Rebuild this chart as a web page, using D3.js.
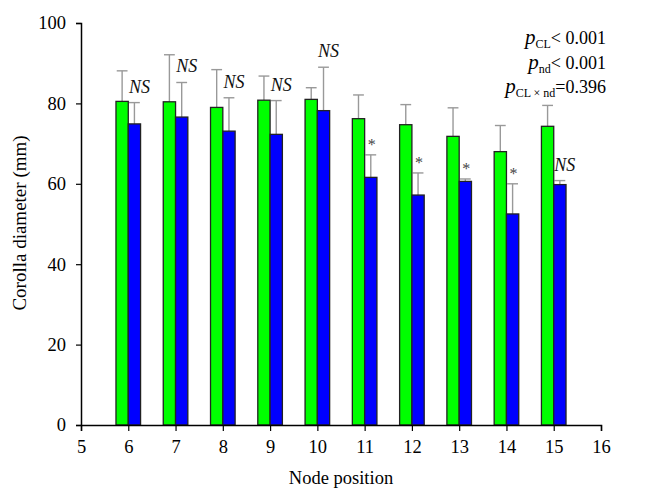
<!DOCTYPE html>
<html>
<head>
<meta charset="utf-8">
<script src="https://cdn.jsdelivr.net/npm/d3@7"></script>
<style>
  body { margin: 0; background: #fff; }
  text { font-family: "Liberation Serif", "Times New Roman", serif; }
</style>
</head>
<body>
<div id="chart"></div>
<script>
// values
var nodes = [6, 7, 8, 9, 10, 11, 12, 13, 14, 15];
var greenMean = [80.5, 80.4, 79.0, 80.8, 81.0, 76.2, 74.7, 71.8, 68.0, 74.3];
var greenTop = [88.1, 92.1, 88.4, 86.8, 83.9, 82.1, 79.7, 78.9, 74.5, 79.5];
var blueMean = [74.9, 76.6, 73.1, 72.3, 78.2, 61.6, 57.2, 60.6, 52.5, 59.8];
var blueTop = [80.2, 85.2, 81.4, 80.7, 89.0, 67.2, 62.7, 61.2, 60.0, 60.8];
var sigLabels = ["NS", "NS", "NS", "NS", "NS", "*", "*", "*", "*", "NS"];
var xTicks = [5, 6, 7, 8, 9, 10, 11, 12, 13, 14, 15, 16];
var yTicks = [0, 20, 40, 60, 80, 100];

var W = 647, H = 495;
var margin = { top: 23, right: 46, bottom: 70, left: 81 },
    width = W - margin.left - margin.right,
    height = H - margin.top - margin.bottom;

var svg = d3.select("#chart").append("svg")
    .attr("width", W)
    .attr("height", H);

var g = svg.append("g")
    .attr("transform", "translate(" + margin.left + "," + margin.top + ")");

var x = d3.scaleLinear().domain([5, 16]).range([0, width]);
var y = d3.scaleLinear().domain([0, 100]).range([height, 0]);
var barW = x(5.26) - x(5);

var rows = nodes.map(function (n, i) {
    return { n: n, g: greenMean[i], gt: greenTop[i], b: blueMean[i], bt: blueTop[i], s: sigLabels[i] };
});

var grp = g.selectAll(".grp").data(rows).enter().append("g");

// error bars (upper only)
function errBar(sel, cx, top, base) {
    sel.append("line")
        .attr("x1", cx).attr("x2", cx)
        .attr("y1", y(base)).attr("y2", y(top))
        .style("stroke", "#999").style("stroke-width", 1.4);
    sel.append("line")
        .attr("x1", cx - barW * 0.44).attr("x2", cx + barW * 0.44)
        .attr("y1", y(top)).attr("y2", y(top))
        .style("stroke", "#999").style("stroke-width", 1.4);
}

grp.each(function (d) {
    var s = d3.select(this);
    errBar(s, x(d.n) - barW / 2, d.gt, d.g);
    errBar(s, x(d.n) + barW / 2, d.bt, d.b);
});

grp.append("rect")
    .attr("x", function (d) { return x(d.n) - barW; })
    .attr("y", function (d) { return y(d.g); })
    .attr("width", barW)
    .attr("height", function (d) { return height - y(d.g); })
    .style("fill", "#00ff00")
    .style("stroke", "#222")
    .style("stroke-width", 1.3);

grp.append("rect")
    .attr("x", function (d) { return x(d.n); })
    .attr("y", function (d) { return y(d.b); })
    .attr("width", barW)
    .attr("height", function (d) { return height - y(d.b); })
    .style("fill", "#0000ff")
    .style("stroke", "#222")
    .style("stroke-width", 1.3);

// significance labels
grp.append("text")
    .attr("x", function (d) { return x(d.n) + barW / 2 + (d.s == "*" ? 1 : 5); })
    .attr("y", function (d) { return y(d.bt) - (d.s == "*" ? 5 : 10); })
    .attr("text-anchor", "middle")
    .style("font-size", function (d) { return d.s == "*" ? "16px" : "18px"; })
    .style("font-style", function (d) { return d.s == "*" ? "normal" : "italic"; })
    .style("fill", function (d) { return d.s == "*" ? "#444" : "#111"; })
    .text(function (d) { return d.s; });

// axes
var xAxis = d3.axisBottom(x).tickValues(xTicks).tickFormat(d3.format("d")).tickSize(6).tickPadding(9);
var yAxis = d3.axisLeft(y).tickValues(yTicks).tickSize(5).tickPadding(10);

var gx = g.append("g")
    .attr("transform", "translate(0," + height + ")")
    .call(xAxis);
var gy = g.append("g").call(yAxis);

[gx, gy].forEach(function (a) {
    a.select(".domain").style("stroke", "#000").style("stroke-width", 1.5);
    a.selectAll(".tick line").style("stroke", "#000").style("stroke-width", 1.2);
    a.selectAll(".tick text")
        .style("font-family", "'Liberation Serif', serif")
        .style("font-size", "18.5px")
        .style("fill", "#000");
});

// axis titles
g.append("text")
    .attr("transform", "rotate(-90)")
    .attr("x", -height / 2 + 1)
    .attr("y", -margin.left + 26)
    .attr("text-anchor", "middle")
    .style("font-size", "19px")
    .text("Corolla diameter (mm)");

g.append("text")
    .attr("x", width / 2)
    .attr("y", height + 59)
    .attr("text-anchor", "middle")
    .style("font-size", "18.5px")
    .text("Node position");

// stats text
var stats = [
    { sub: "CL", rest: "< 0.001" },
    { sub: "nd", rest: "< 0.001" },
    { sub: "CL \u00d7 nd", rest: "=0.396" }
];
stats.forEach(function (s, i) {
    var t = svg.append("text")
        .attr("x", 606)
        .attr("y", 44 + i * 24.5)
        .attr("text-anchor", "end")
        .style("font-size", "18px");
    t.append("tspan").style("font-style", "italic").style("font-size", "21px").text("p");
    t.append("tspan").attr("dy", 4).style("font-size", "12px").text(s.sub);
    t.append("tspan").attr("dy", -4).text(s.rest);
});
</script>
</body>
</html>
